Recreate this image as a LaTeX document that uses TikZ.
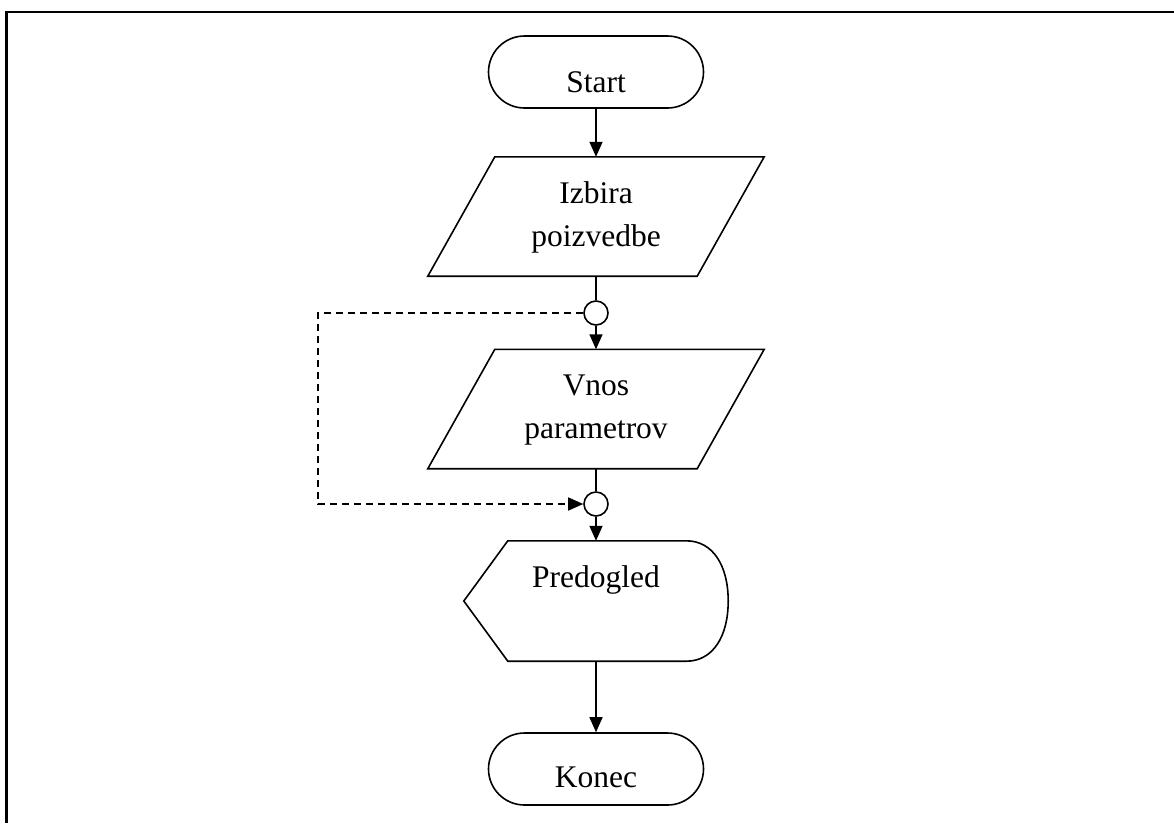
\documentclass[tikz,border=0pt]{standalone}
\usepackage{fontspec}
\setmainfont{Liberation Serif}
\usetikzlibrary{arrows.meta,shapes.misc,calc}

\tikzset{
  line/.style={line width=1.6pt, black},
  flow/.style={line, -{Triangle[length=15pt,width=13pt]}},
  loopline/.style={line, dash pattern=on 7pt off 5pt, -{Triangle[length=15pt,width=13pt]}},
  terminal/.style={rounded rectangle, draw, line width=1.6pt, minimum width=215pt, minimum height=72pt, inner sep=0pt},
  frame/.style={draw=none, minimum width=336pt, minimum height=119pt, inner sep=0pt},
  connector/.style={circle, draw, line width=1.6pt, minimum size=24pt, inner sep=0pt, fill=white},
  label/.style={anchor=base, inner sep=0pt, font=\fontsize{31.5}{43}\selectfont},
}

\begin{document}
\begin{tikzpicture}[x=1pt,y=-1pt]
  \useasboundingbox (0,0) rectangle (1174,823);

  % page frame (top and left edges)
  \draw[line width=2.5pt] (6.5,823) -- (6.5,12) -- (1174,12);

  % terminals
  \node[terminal] (start) at (596,72) {};
  \node[label] (startt) at (596,92) {Start};
  \node[terminal] (konec) at (596,769) {};
  \node[label] (konect) at (596,787) {Konec};

  % input parallelograms
  \node[frame] (izb) at (596,216.5) {};
  \draw[line] ($(izb.north west)+(67,0)$) -- (izb.north east)
    -- ($(izb.south east)+(-67,0)$) -- (izb.south west) -- cycle;
  \node[label] (izbt1) at (596,203) {Izbira};
  \node[label] (izbt2) at (596,246) {poizvedbe};

  \node[frame] (vno) at (596,409) {};
  \draw[line] ($(vno.north west)+(67,0)$) -- (vno.north east)
    -- ($(vno.south east)+(-67,0)$) -- (vno.south west) -- cycle;
  \node[label] (vnot1) at (596,395) {Vnos};
  \node[label] (vnot2) at (596,438) {parametrov};

  % display shape
  \node[draw=none, minimum width=264pt, minimum height=120pt, inner sep=0pt] (pre) at (596,601) {};
  \draw[line] (pre.west) -- ($(pre.north west)+(44,0)$) -- ($(pre.north east)+(-42,0)$)
    .. controls ($(pre.north east)+(-15,0)$) and ($(pre.east)+(0,-35)$) .. (pre.east)
    .. controls ($(pre.east)+(0,35)$) and ($(pre.south east)+(-15,0)$) .. ($(pre.south east)+(-42,0)$)
    -- ($(pre.south west)+(44,0)$) -- cycle;
  \node[label] (pret) at (596,587) {Predogled};

  % connectors
  \node[connector] (c1) at (596,313) {};
  \node[connector] (c2) at (596,504) {};

  % flow lines
  \draw[flow] (start.south) -- (izb.north);
  \draw[line] (izb.south) -- (c1.north);
  \draw[flow] (c1.south) -- (vno.north);
  \draw[line] (vno.south) -- (c2.north);
  \draw[flow] (c2.south) -- (pre.north);
  \draw[flow] (pre.south) -- (konec.north);

  % bypass loop
  \coordinate (lp) at (318,313);
  \coordinate (lq) at (318,504);
  \draw[loopline] (c1.west) -- (lp) -- (lq) -- (c2.west);
\end{tikzpicture}
\end{document}
